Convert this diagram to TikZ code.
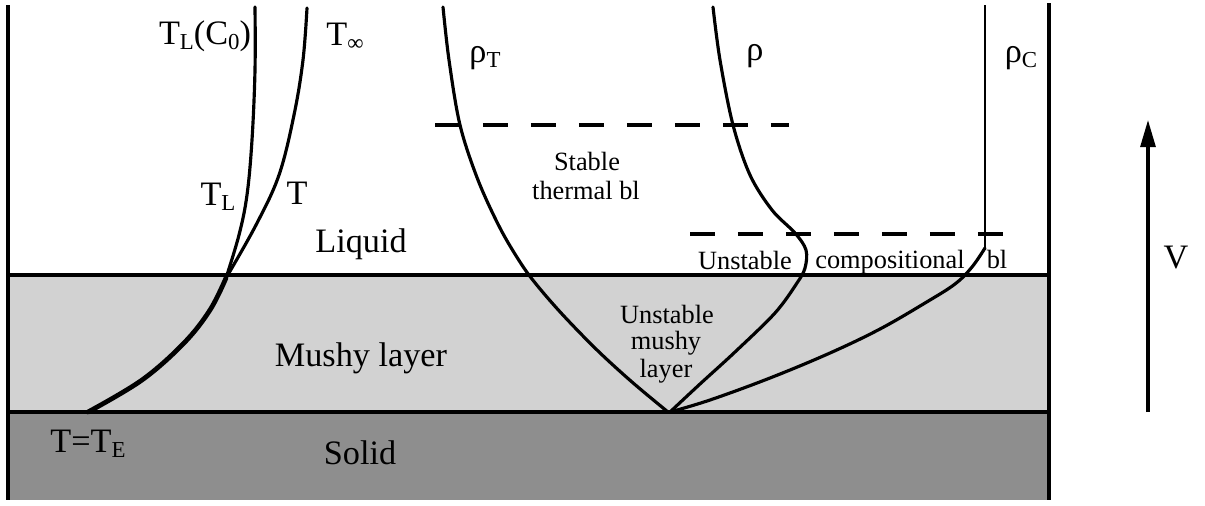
\documentclass[tikz,border=0pt]{standalone}
\usepackage{fontspec}
\setmainfont{Liberation Serif}
\usetikzlibrary{arrows.meta}
\newcommand\lo[1]{\raisebox{-0.17em}{\fontsize{13pt}{13pt}\selectfont #1}}
\definecolor{mushyc}{HTML}{D2D2D2}
\definecolor{solidc}{HTML}{8E8E8E}
\begin{document}
\begin{tikzpicture}[x=0.02cm,y=-0.02cm,
  big/.style={font=\fontsize{19.5pt}{22pt}\selectfont, inner sep=0pt, anchor=base},
  small/.style={font=\fontsize{15pt}{17pt}\selectfont, inner sep=0pt, anchor=base},
  curve/.style={line width=1.8pt, line join=round, line cap=round},
  thickcurve/.style={line width=2.7pt, line join=round, line cap=round},
  wall/.style={line width=1.8pt},
  dashline/.style={line width=1.8pt, dash pattern=on 14.2pt off 13.1pt}]
\useasboundingbox (0,0) rectangle (1205,505);
\fill[white] (0,0) rectangle (1205,505);
% layers
\fill[mushyc] (8,275) rectangle (1049,412);
\fill[solidc] (8,412) rectangle (1049,500);
% walls and interfaces
\draw[wall] (8,5) -- (8,500);
\draw[wall] (1049,3) -- (1049,500);
\draw[wall] (8,275) -- (1049,275);
\draw[line width=2.7pt] (8,412) -- (1049,412);
% dashed boundary-layer limits
\draw[dashline] (435,125) -- (789,125);
\draw[dashline] (690,234) -- (1003,234);
% temperature curves
\draw[curve] plot[smooth, tension=0.6] coordinates {(255,7) (255,70) (252,140) (247,195) (239,235) (226,278)};
\draw[curve] plot[smooth, tension=0.6] coordinates {(307,8) (303,60) (294,115) (279,175) (256,225) (226,278)};
\draw[thickcurve] plot[smooth, tension=0.6] coordinates {(226,278) (210,310) (184,343) (142,380) (88,412)};
% density curves
\draw[curve] plot[smooth, tension=0.55] coordinates {(443,7) (449,60) (460,125) (478,180) (500,228) (520,262) (536,284) (562,314) (597,350) (632,382) (668,412)};
\draw[curve] plot[smooth, tension=0.55] coordinates {(713,7) (720,60) (733,125) (750,175) (772,210) (795,233) (806,250) (805,268) (797,283) (775,313) (735,352) (700,384) (670,412)};
\draw[line width=1.5pt] (985,5) -- (985,248);
\draw[curve] plot[smooth, tension=0.6] coordinates {(985,248) (972,267) (955,284) (925,303) (880,329) (830,353) (770,378) (710,400) (670,412)};
% velocity arrow
\coordinate (vbot) at (1148,412);
\coordinate (vtop) at (1148,120);
\draw[line width=1.8pt, -{Triangle[length=15.4pt,width=8.5pt]}] (vbot) -- (vtop);
% labels
\node[big] (tlc) at (205,44) {T\lo{L}(C\lo{0})};
\node[big] (tinf) at (345,45) {T\lo{∞}};
\node[big] (tl) at (218,205) {T\lo{L}};
\node[big] (t) at (297,204) {T};
\node[big] (liq) at (361,252) {Liquid};
\node[big] (rhot) at (485,62) {ρ\lo{T}};
\node[big] (rho) at (755,60) {ρ};
\node[big] (rhoc) at (1021,62) {ρ\lo{C}};
\node[small] (st1) at (587,170) {Stable};
\node[small] (st2) at (586,199) {thermal bl};
\node[small] (un1) at (745,269) {Unstable};
\node[small] (comp) at (890,268) {compositional};
\node[small] (bl) at (997,268) {bl};
\node[big] (mushy) at (361,366) {Mushy layer};
\node[small] (um1) at (667,323) {Unstable};
\node[small] (um2) at (666,349) {mushy};
\node[small] (um3) at (666,377) {layer};
\node[big] (te) at (88,452) {T=T\lo{E}};
\node[big] (sol) at (360,464) {Solid};
\node[big] (v) at (1176,268) {V};
\end{tikzpicture}
\end{document}
